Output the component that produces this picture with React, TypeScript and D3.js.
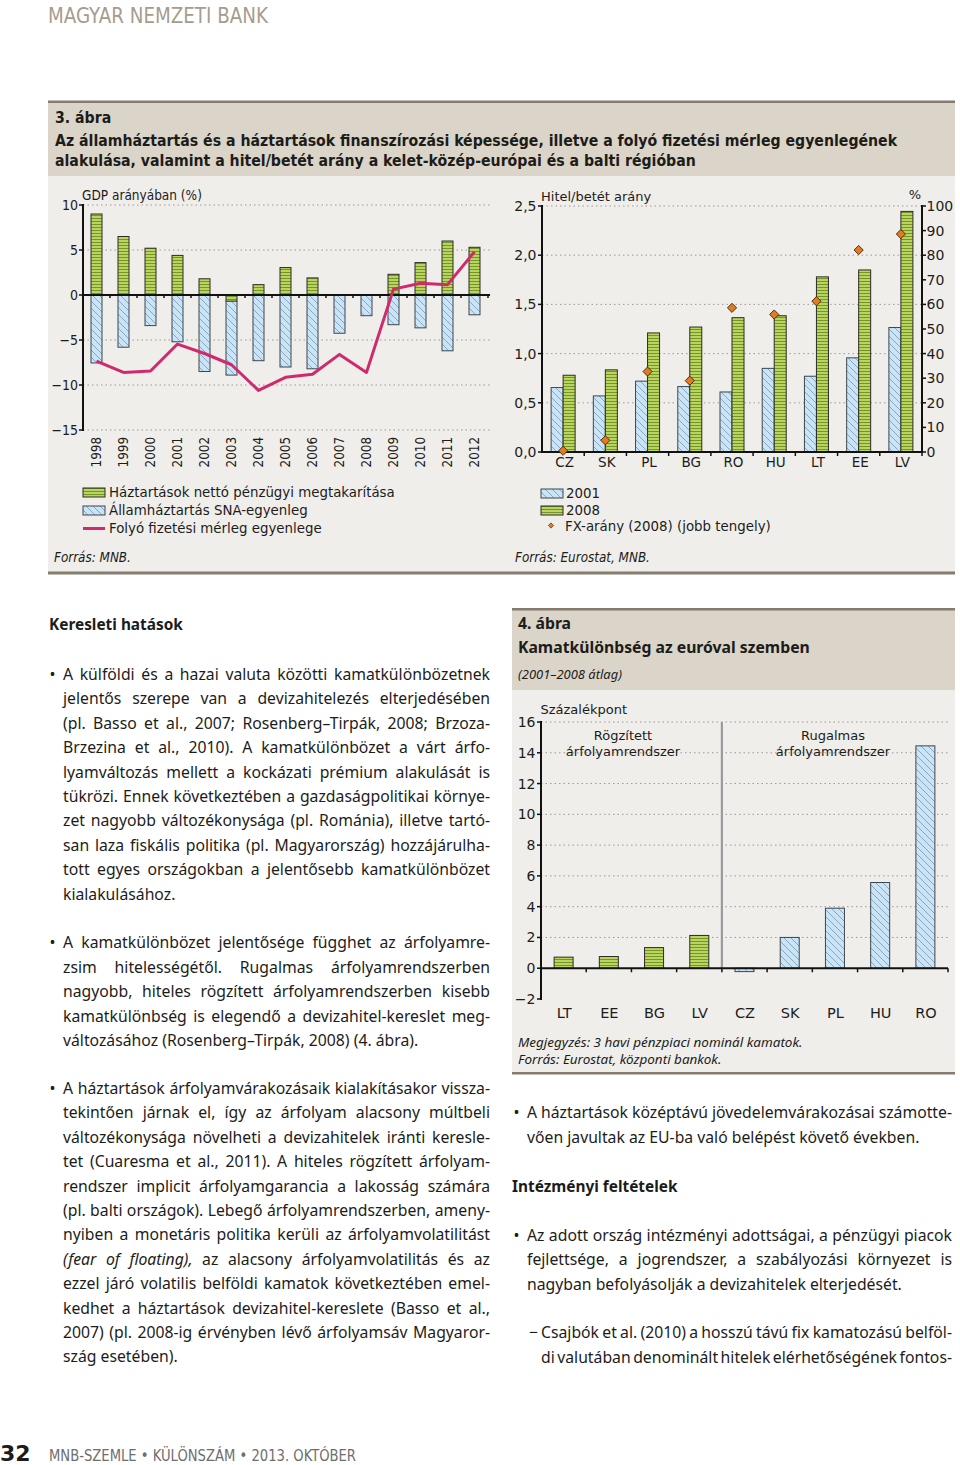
import React from 'react';
import * as d3 from 'd3';

// ---------- DATA ----------
const years = ['1998', '1999', '2000', '2001', '2002', '2003', '2004', '2005', '2006', '2007', '2008', '2009', '2010', '2011', '2012'];
const householdSaving = [9.0, 6.5, 5.2, 4.4, 1.8, -0.7, 1.15, 3.05, 1.9, 0, 0, 2.3, 3.6, 6.0, 5.3];
const govBalance = [-7.55, -5.8, -3.4, -5.2, -8.5, -8.2, -7.3, -8.0, -8.2, -4.25, -2.3, -3.3, -3.65, -6.2, -2.2];
const currentAccount = [-7.35, -8.6, -8.45, -5.45, -6.5, -7.75, -10.6, -9.15, -8.8, -6.6, -8.6, 0.65, 1.3, 1.15, 4.8];
const leftTicks = [10, 5, 0, -5, -10, -15];

const countries = ['CZ', 'SK', 'PL', 'BG', 'RO', 'HU', 'LT', 'EE', 'LV'];
const ltd2001 = [0.655, 0.57, 0.72, 0.665, 0.61, 0.85, 0.77, 0.957, 1.265];
const ltd2008 = [0.78, 0.835, 1.21, 1.27, 1.365, 1.385, 1.78, 1.85, 2.445];
const fxShare2008 = [0.5, 4.75, 32.7, 29, 58.6, 55.9, 61.3, 82.1, 88.6];
const ltdTicks = [0, 0.5, 1, 1.5, 2, 2.5];
const fxTicks = [0, 10, 20, 30, 40, 50, 60, 70, 80, 90, 100];

const spreadCountries = ['LT', 'EE', 'BG', 'LV', 'CZ', 'SK', 'PL', 'HU', 'RO'];
const spreadValues = [0.72, 0.76, 1.34, 2.13, -0.22, 2.0, 3.9, 5.57, 14.45];
const spreadFixedRegime = [true, true, true, true, false, false, false, false, false];
const spreadTicks = [-2, 0, 2, 4, 6, 8, 10, 12, 14, 16];

// ---------- TEXT ----------
const para1 = [
  'A külföldi és a hazai valuta közötti kamatkülönbözetnek',
  'jelentős szerepe van a devizahitelezés elterjedésében',
  '(pl. Basso et al., 2007; Rosenberg–Tirpák, 2008; Brzoza-',
  'Brzezina et al., 2010). A kamatkülönbözet a várt árfo-',
  'lyamváltozás mellett a kockázati prémium alakulását is',
  'tükrözi. Ennek következtében a gazdaságpolitikai környe-',
  'zet nagyobb változékonysága (pl. Románia), illetve tartó-',
  'san laza fiskális politika (pl. Magyarország) hozzájárulha-',
  'tott egyes országokban a jelentősebb kamatkülönbözet',
  'kialakulásához.',
];
const para2 = [
  'A kamatkülönbözet jelentősége függhet az árfolyamre-',
  'zsim hitelességétől. Rugalmas árfolyamrendszerben',
  'nagyobb, hiteles rögzített árfolyamrendszerben kisebb',
  'kamatkülönbség is elegendő a devizahitel-kereslet meg-',
  'változásához (Rosenberg–Tirpák, 2008) (4. ábra).',
];
const para3 = [
  'A háztartások árfolyamvárakozásaik kialakításakor vissza-',
  'tekintően járnak el, így az árfolyam alacsony múltbeli',
  'változékonysága növelheti a devizahitelek iránti keresle-',
  'tet (Cuaresma et al., 2011). A hiteles rögzített árfolyam-',
  'rendszer implicit árfolyamgarancia a lakosság számára',
  '(pl. balti országok). Lebegő árfolyamrendszerben, ameny-',
  'nyiben a monetáris politika kerüli az árfolyamvolatilitást',
  '*(fear* *of* *floating),* az alacsony árfolyamvolatilitás és az',
  'ezzel járó volatilis belföldi kamatok következtében emel-',
  'kedhet a háztartások devizahitel-kereslete (Basso et al.,',
  '2007) (pl. 2008-ig érvényben lévő árfolyamsáv Magyaror-',
  'szág esetében).',
];
const para4 = [
  'A háztartások középtávú jövedelemvárakozásai számotte-',
  'vően javultak az EU-ba való belépést követő években.',
];
const para5 = [
  'Az adott ország intézményi adottságai, a pénzügyi piacok',
  'fejlettsége, a jogrendszer, a szabályozási környezet is',
  'nagyban befolyásolják a devizahitelek elterjedését.',
];
const para6 = [
  'Csajbók et al. (2010) a hosszú távú fix kamatozású belföl-',
  'di valutában denominált hitelek elérhetőségének fontos-',
];

// ---------- STYLE ----------
const SANS = "'DejaVu Sans', sans-serif";
const BODY = "'Noto Sans', 'DejaVu Sans', sans-serif";
const COND = "'DejaVu Sans Condensed', 'DejaVu Sans', sans-serif";
const INK = '#1c1c1a';
const BAND = '#dbd4c8';
const BG = '#f0eeeb';
const BORDER = '#857b6f';
const GRID = '#9a9a9a';
const PINK = '#cf2a6c';
const ORANGE = '#e27c22';

let _ctx: CanvasRenderingContext2D | null = null;
function measure(text: string, size: number, family: string, weight = 'normal', style = 'normal') {
  if (!_ctx) {
    const c = document.createElement('canvas');
    _ctx = c.getContext('2d');
  }
  _ctx!.font = `${style} ${weight} ${size}px ${family}`;
  return _ctx!.measureText(text).width;
}
function fitSize(text: string, width: number, family: string, weight = 'normal', style = 'normal') {
  return (20 * width) / measure(text, 20, family, weight, style);
}
const fmtMinus = (v: number) => String(v).replace('-', '−');
const fmtComma = (v: number) => v.toFixed(1).replace('.', ',');

function tokenize(text: string) {
  return text.split(' ').filter(Boolean).map((t: string) => {
    const it = t.length > 1 && t.startsWith('*') && t.endsWith('*');
    return { s: it ? t.slice(1, -1) : t, it };
  });
}

// font size so that every line fits its column with at least 60% of a normal space between words
function bodyFontSize(calib: number, groups: [string[], number][]) {
  let size = calib;
  const sp = measure(' ', 20, BODY);
  for (const [lines, w] of groups) {
    for (const ln of lines) {
      const toks = tokenize(ln);
      const ww = d3.sum(toks, (t) => measure(t.s, 20, BODY, 'normal', t.it ? 'italic' : 'normal'));
      const s = (20 * w) / (ww + 0.6 * sp * (toks.length - 1));
      size = Math.min(size, s);
    }
  }
  return size;
}

function JLine({ text, x0, x1, y, justify, size }: any) {
  const toks = tokenize(text);
  const ws = toks.map((t: any) => measure(t.s, size, BODY, 'normal', t.it ? 'italic' : 'normal'));
  const total = d3.sum(ws);
  const gap = justify && toks.length > 1 ? (x1 - x0 - total) / (toks.length - 1) : measure(' ', size, BODY);
  let x = x0;
  return (
    <g>
      {toks.map((t: any, i: number) => {
        const el = (
          <text key={i} x={x} y={y} fontStyle={t.it ? 'italic' : 'normal'}>
            {t.s}
          </text>
        );
        x += ws[i] + gap;
        return el;
      })}
    </g>
  );
}

function Para({ lines, x0, x1, y0, size, marker, markerX, justifyLast = false }: any) {
  const lh = 24.4;
  return (
    <g fontFamily={BODY} fontSize={size} fill={INK}>
      <text x={markerX} y={y0}>{marker}</text>
      {lines.map((ln: string, i: number) => (
        <JLine key={i} text={ln} x0={x0} x1={x1} y={y0 + i * lh} size={size} justify={i < lines.length - 1 || justifyLast} />
      ))}
    </g>
  );
}

function GreenBar(props: any) {
  return <rect {...props} fill="url(#pGreen)" stroke="#2b2b2b" strokeWidth={1} />;
}
function BlueBar(props: any) {
  return <rect {...props} fill="url(#pBlue)" stroke="#3d4650" strokeWidth={1} />;
}

function LeftChart() {
  const x = d3.scaleBand<string>().domain(years).range([83, 488]);
  const y = d3.scaleLinear().domain([-15, 10]).range([430, 205]);
  const bw = 11;
  const cx = (yr: string) => (x(yr) as number) + x.bandwidth() / 2;
  const rows = years.map((yr, i) => ({ year: yr, hh: householdSaving[i], gov: govBalance[i] }));
  const series = d3.stack<any>().keys(['hh', 'gov']).offset(d3.stackOffsetDiverging)(rows);
  const line = d3
    .line<number>()
    .x((_, i) => cx(years[i]))
    .y((d) => y(d));
  return (
    <g>
      {leftTicks.filter((t) => t !== 0).map((t) => (
        <line key={t} x1={83} x2={490} y1={y(t)} y2={y(t)} stroke={GRID} strokeDasharray="1.5,3" />
      ))}
      {series.map((s) =>
        s.map((d, i) => {
          if (Math.abs(d[1] - d[0]) < 1e-9) return null;
          const Bar = s.key === 'hh' ? GreenBar : BlueBar;
          return <Bar key={s.key + i} x={cx(years[i]) - bw / 2} width={bw} y={y(d[1])} height={y(d[0]) - y(d[1])} />;
        })
      )}
      <line x1={83} x2={490} y1={y(0)} y2={y(0)} stroke="#111" strokeWidth={2} />
      {years.map((yr) => (
        <line key={yr} x1={(x(yr) as number) + x.bandwidth()} x2={(x(yr) as number) + x.bandwidth()} y1={y(0) - 1} y2={y(0) + 3} stroke="#111" strokeWidth={1.5} />
      ))}
      <line x1={83} x2={83} y1={y(10) - 1} y2={y(-15) + 1} stroke="#111" strokeWidth={2} />
      {leftTicks.map((t) => (
        <g key={t}>
          <line x1={79} x2={83} y1={y(t)} y2={y(t)} stroke="#111" strokeWidth={1.5} />
          <text x={78} y={y(t) + 5} textAnchor="end" fontFamily={COND} fontSize={14} fill={INK}>
            {fmtMinus(t)}
          </text>
        </g>
      ))}
      <path d={line(currentAccount) || ''} fill="none" stroke={PINK} strokeWidth={3} strokeLinejoin="round" />
      <text x={82} y={200} fontFamily={COND} fontSize={13.5} fill={INK}>GDP arányában (%)</text>
      {years.map((yr) => (
        <text key={yr} transform={`translate(${cx(yr) + 4.8},437) rotate(-90)`} textAnchor="end" fontFamily={COND} fontSize={13.3} fill={INK}>
          {yr}
        </text>
      ))}
    </g>
  );
}

function RightChart() {
  const x = d3.scaleBand<string>().domain(countries).range([542, 922]);
  const yL = d3.scaleLinear().domain([0, 2.5]).range([452, 206]);
  const yR = d3.scaleLinear().domain([0, 100]).range([452, 206]);
  const bw = 12;
  const cx = (c: string) => (x(c) as number) + x.bandwidth() / 2;
  const diamond = d3.symbol().type(d3.symbolSquare).size(42)() || '';
  return (
    <g>
      {ltdTicks.filter((t) => t !== 0).map((t) => (
        <line key={t} x1={542} x2={922} y1={yL(t)} y2={yL(t)} stroke={GRID} strokeDasharray="1.5,3" />
      ))}
      {countries.map((c, i) => (
        <g key={c}>
          <BlueBar x={cx(c) - bw} width={bw} y={yL(ltd2001[i])} height={yL(0) - yL(ltd2001[i])} />
          <GreenBar x={cx(c)} width={bw} y={yL(ltd2008[i])} height={yL(0) - yL(ltd2008[i])} />
        </g>
      ))}
      <line x1={542} x2={922} y1={yL(0)} y2={yL(0)} stroke="#111" strokeWidth={2} />
      {countries.map((c) => (
        <line key={c} x1={(x(c) as number) + x.bandwidth()} x2={(x(c) as number) + x.bandwidth()} y1={yL(0)} y2={yL(0) + 4} stroke="#111" strokeWidth={1.5} />
      ))}
      <line x1={542} x2={542} y1={yL(2.5) - 1} y2={yL(0) + 1} stroke="#111" strokeWidth={2} />
      <line x1={922} x2={922} y1={yR(100) - 1} y2={yR(0) + 1} stroke="#111" strokeWidth={2} />
      {ltdTicks.map((t) => (
        <g key={t}>
          <line x1={538} x2={542} y1={yL(t)} y2={yL(t)} stroke="#111" strokeWidth={1.5} />
          <text x={536.5} y={yL(t) + 5} textAnchor="end" fontFamily={SANS} fontSize={14} fill={INK}>
            {fmtComma(t)}
          </text>
        </g>
      ))}
      {fxTicks.map((t) => (
        <g key={t}>
          <line x1={922} x2={926} y1={yR(t)} y2={yR(t)} stroke="#111" strokeWidth={1.5} />
          <text x={926.5} y={yR(t) + 5} fontFamily={SANS} fontSize={14} fill={INK}>
            {t}
          </text>
        </g>
      ))}
      {countries.map((c, i) => (
        <path key={c} d={diamond} transform={`translate(${cx(c)},${yR(fxShare2008[i])}) rotate(45)`} fill={ORANGE} stroke="#4a2a10" strokeWidth={0.9} />
      ))}
      {countries.map((c) => (
        <text key={c} x={cx(c) + 1.5} y={467} textAnchor="middle" fontFamily={SANS} fontSize={13.5} fill={INK}>
          {c}
        </text>
      ))}
      <text x={541} y={200.5} fontFamily={SANS} fontSize={13} fill={INK}>Hitel/betét  arány</text>
      <text x={921} y={199} textAnchor="end" fontFamily={SANS} fontSize={13} fill={INK}>%</text>
    </g>
  );
}

function SpreadChart() {
  const x = d3.scaleBand<string>().domain(spreadCountries).range([541, 948]);
  const y = d3.scaleLinear().domain([-2, 16]).range([999, 722]);
  const bw = 19;
  const cx = (c: string) => (x(c) as number) + x.bandwidth() / 2;
  const sepX = x('CZ') as number;
  return (
    <g>
      {spreadTicks.filter((t) => t > 0).map((t) => (
        <line key={t} x1={541} x2={948} y1={y(t)} y2={y(t)} stroke={GRID} strokeDasharray="1.5,3" />
      ))}
      <line x1={sepX} x2={sepX} y1={y(16)} y2={y(0)} stroke="#9b9b9b" strokeWidth={2.2} />
      {spreadCountries.map((c, i) => {
        const v = spreadValues[i];
        const Bar = spreadFixedRegime[i] ? GreenBar : BlueBar;
        return <Bar key={c} x={cx(c) - bw / 2} width={bw} y={y(Math.max(0, v))} height={Math.abs(y(v) - y(0))} />;
      })}
      <line x1={541} x2={948} y1={y(0)} y2={y(0)} stroke="#111" strokeWidth={2} />
      {spreadCountries.map((c) => (
        <line key={c} x1={(x(c) as number) + x.bandwidth()} x2={(x(c) as number) + x.bandwidth()} y1={y(0)} y2={y(0) + 4} stroke="#111" strokeWidth={1.5} />
      ))}
      <line x1={541} x2={541} y1={y(16) - 1} y2={y(-2) + 1} stroke="#111" strokeWidth={2} />
      {spreadTicks.map((t) => (
        <g key={t}>
          <line x1={537} x2={541} y1={y(t)} y2={y(t)} stroke="#111" strokeWidth={1.5} />
          <text x={535.5} y={y(t) + 5} textAnchor="end" fontFamily={SANS} fontSize={14} fill={INK}>
            {fmtMinus(t)}
          </text>
        </g>
      ))}
      {spreadCountries.map((c) => (
        <text key={c} x={cx(c) + 0.5} y={1018} textAnchor="middle" fontFamily={SANS} fontSize={14.5} fill={INK}>
          {c}
        </text>
      ))}
      <text x={540.5} y={714} fontFamily={SANS} fontSize={13} fill={INK}>Százalékpont</text>
      <g fontFamily={SANS} fontSize={13} fill={INK} textAnchor="middle">
        <text x={623} y={740}>Rögzített</text>
        <text x={623} y={755.5}>árfolyamrendszer</text>
        <text x={833} y={740}>Rugalmas</text>
        <text x={833} y={755.5}>árfolyamrendszer</text>
      </g>
    </g>
  );
}

export default function App() {
  const calib = fitSize('vően javultak az EU-ba való belépést követő években.', 402, BODY);
  const bodySize = bodyFontSize(calib, [
    [para1, 427],
    [para2, 427],
    [para3, 427],
    [para4, 425],
    [para5, 425],
    [para6, 411],
  ]);
  const titleSize = fitSize(
    'Az államháztartás és a háztartások finanszírozási képessége, illetve a folyó fizetési mérleg egyenlegének',
    843,
    COND,
    'bold'
  );
  const legendSize = fitSize('Háztartások nettó pénzügyi megtakarítása', 286, COND);
  const srcSize = fitSize('Forrás: Eurostat, MNB.', 135, COND, 'normal', 'italic');
  const f4Title = fitSize('Kamatkülönbség az euróval szemben', 292, BODY, 'bold');
  const f4Sub = fitSize('(2001–2008 átlag)', 104, BODY, 'normal', 'italic');
  const f4Note = fitSize('Megjegyzés: 3 havi pénzpiaci nominál kamatok.', 285, BODY, 'normal', 'italic');
  const headSize = fitSize('Keresleti hatások', 134, BODY, 'bold');
  const smallDiamond = d3.symbol().type(d3.symbolSquare).size(14)() || '';

  return (
    <svg width={960} height={1465} style={{ position: 'absolute', left: 0, top: 0 }} xmlns="http://www.w3.org/2000/svg">
      <defs>
        <pattern id="pGreen" patternUnits="userSpaceOnUse" width={4} height={3}>
          <rect width={4} height={3} fill="#bad55d" />
          <rect y={2} width={4} height={1} fill="#76942c" />
        </pattern>
        <pattern id="pBlue" patternUnits="userSpaceOnUse" width={7} height={7}>
          <rect width={7} height={7} fill="#c9e3f7" />
          <path d="M0,0 L7,7 M-1,6 L1,8 M6,-1 L8,1" stroke="#8ba6bd" strokeWidth={1} />
        </pattern>
      </defs>
      <rect width={960} height={1465} fill="#ffffff" />

      {/* Header */}
      <text x={48} y={23} fontFamily={COND} fontSize={21} fill="#a69c8e" textLength={220} lengthAdjust="spacingAndGlyphs">
        MAGYAR NEMZETI BANK
      </text>

      {/* Figure 3 box */}
      <rect x={48} y={103} width={907} height={73} fill={BAND} />
      <rect x={48} y={176} width={907} height={396} fill={BG} />
      <rect x={48} y={100.5} width={907} height={2.5} fill={BORDER} />
      <rect x={48} y={571.5} width={907} height={3} fill={BORDER} />
      <g fontFamily={COND} fontWeight="bold" fontSize={titleSize} fill={INK}>
        <text x={55} y={123}>3. ábra</text>
        <text x={55} y={146}>Az államháztartás és a háztartások finanszírozási képessége, illetve a folyó fizetési mérleg egyenlegének</text>
        <text x={55} y={166}>alakulása, valamint a hitel/betét arány a kelet-közép-európai és a balti régióban</text>
      </g>
      <LeftChart />
      <RightChart />

      {/* Legends */}
      <g fontFamily={COND} fontSize={legendSize} fill={INK}>
        <GreenBar x={83} y={488} width={22} height={9} />
        <text x={109} y={497}>Háztartások nettó pénzügyi megtakarítása</text>
        <BlueBar x={83} y={506} width={22} height={9} />
        <text x={109} y={515}>Államháztartás SNA-egyenleg</text>
        <line x1={83} x2={105} y1={528.5} y2={528.5} stroke={PINK} strokeWidth={3} />
        <text x={109} y={533}>Folyó fizetési mérleg egyenlege</text>

        <BlueBar x={541} y={489} width={22} height={9} />
        <text x={566} y={498}>2001</text>
        <GreenBar x={541} y={506} width={22} height={9} />
        <text x={566} y={515}>2008</text>
        <path d={smallDiamond} transform="translate(551,525.5) rotate(45)" fill={ORANGE} stroke="#4a2a10" strokeWidth={0.6} />
        <text x={565} y={530.5}>FX-arány (2008) (jobb tengely)</text>
      </g>
      <g fontFamily={COND} fontStyle="italic" fontSize={srcSize} fill={INK}>
        <text x={54} y={562}>Forrás: MNB.</text>
        <text x={515} y={562}>Forrás: Eurostat, MNB.</text>
      </g>

      {/* Left column text */}
      <text x={49} y={630} fontFamily={BODY} fontWeight="bold" fontSize={headSize} fill={INK}>Keresleti hatások</text>
      <Para lines={para1} x0={63} x1={490} y0={680} size={bodySize} marker="•" markerX={49.5} />
      <Para lines={para2} x0={63} x1={490} y0={948.3} size={bodySize} marker="•" markerX={49.5} />
      <Para lines={para3} x0={63} x1={490} y0={1094} size={bodySize} marker="•" markerX={49.5} />

      {/* Figure 4 box */}
      <rect x={512} y={610} width={443} height={80} fill={BAND} />
      <rect x={512} y={690} width={443} height={382} fill={BG} />
      <rect x={512} y={608} width={443} height={2.5} fill={BORDER} />
      <rect x={512} y={1072} width={443} height={2.5} fill={BORDER} />
      <g fontFamily={BODY} fill={INK}>
        <text x={518} y={629} fontWeight="bold" fontSize={f4Title}>4. ábra</text>
        <text x={518} y={653} fontWeight="bold" fontSize={f4Title}>Kamatkülönbség az euróval szemben</text>
        <text x={518} y={678.5} fontStyle="italic" fontSize={f4Sub}>(2001–2008 átlag)</text>
        <text x={518} y={1046.5} fontStyle="italic" fontSize={f4Note}>Megjegyzés: 3 havi pénzpiaci nominál kamatok.</text>
        <text x={518} y={1064} fontStyle="italic" fontSize={f4Note}>Forrás: Eurostat, központi bankok.</text>
      </g>
      <SpreadChart />

      {/* Right column text */}
      <Para lines={para4} x0={527} x1={952} y0={1118.3} size={bodySize} marker="•" markerX={513.5} />
      <text x={512} y={1192} fontFamily={BODY} fontWeight="bold" fontSize={headSize} fill={INK}>Intézményi feltételek</text>
      <Para lines={para5} x0={527} x1={952} y0={1240.7} size={bodySize} marker="•" markerX={513.5} />
      <Para lines={para6} x0={541} x1={952} y0={1338.3} size={bodySize} marker="−" markerX={529} justifyLast={true} />

      {/* Footer */}
      <text x={0} y={1461} fontFamily={SANS} fontWeight="bold" fontSize={22} fill={INK}>32</text>
      <text x={49} y={1461} fontFamily={COND} fontSize={15} fill="#6e6e6e" textLength={307} lengthAdjust="spacingAndGlyphs">
        MNB-SZEMLE • KÜLÖNSZÁM • 2013. OKTÓBER
      </text>
    </svg>
  );
}
